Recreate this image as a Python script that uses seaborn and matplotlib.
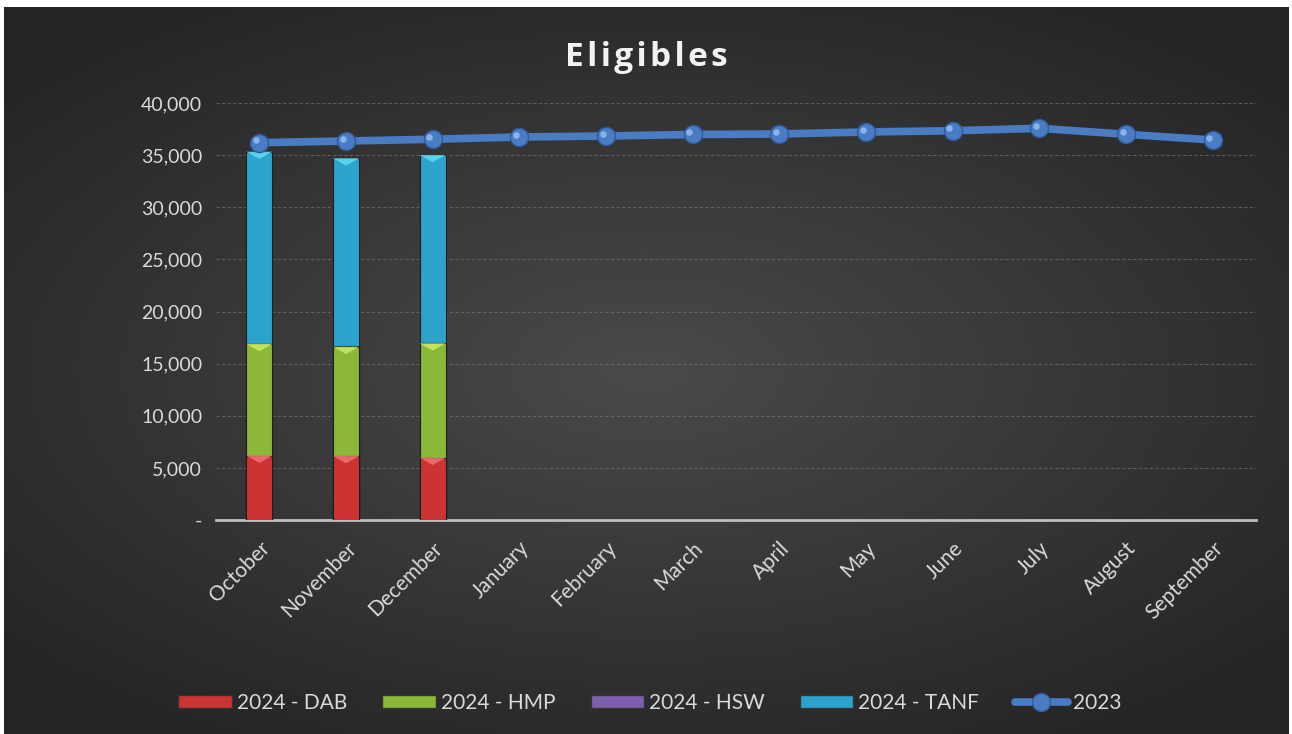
import numpy as np
import pandas as pd
import matplotlib
matplotlib.use("Agg")
import matplotlib.pyplot as plt
import seaborn as sns
from matplotlib.patches import Patch
from matplotlib.lines import Line2D
from matplotlib.ticker import FuncFormatter, MultipleLocator

months = ["October", "November", "December", "January", "February", "March",
          "April", "May", "June", "July", "August", "September"]
dab_2024 = [6180, 6140, 5980]
hmp_2024 = [10700, 10485, 10970]
hsw_2024 = [40, 40, 40]
tanf_2024 = [18410, 18035, 18020]
total_2023 = [36190, 36355, 36520, 36740, 36835, 36980, 37030, 37220, 37340, 37570, 37000, 36450]

series_names = ["2024 - DAB", "2024 - HMP", "2024 - HSW", "2024 - TANF"]
series_colors = ["#cc3434", "#8cb83a", "#7d5fb0", "#2ca3cc"]
line_color = "#4a7cc4"
text_color = "#d9d9d9"

sns.set_theme(style="dark")
plt.rcParams["font.family"] = ["Lato", "DejaVu Sans"]

W, H = 1292, 734
fig = plt.figure(figsize=(W / 100, H / 100), dpi=100, facecolor="white")

# background panel with radial gradient
bg = fig.add_axes([4 / W, 0, (1289 - 4) / W, (H - 7) / H])
yy, xx = np.mgrid[-1:1:300j, -1:1:500j]
r = np.sqrt((xx / 1.0) ** 2 + (yy / 0.9) ** 2)
r = np.clip(r / 1.35, 0, 1)
c0 = np.array([0x4a, 0x4a, 0x4a]) / 255
c1 = np.array([0x24, 0x24, 0x24]) / 255
img = c0[None, None, :] * (1 - r[..., None]) + c1[None, None, :] * r[..., None]
bg.imshow(img, aspect="auto", extent=[0, 1, 0, 1])
bg.set_axis_off()

ax = fig.add_axes([216 / W, (H - 520) / H, 1040 / W, 417 / H])
ax.set_facecolor("none")
ax.patch.set_alpha(0)

n = len(dab_2024)
cum_dab = np.array(dab_2024)
cum_hmp = cum_dab + np.array(hmp_2024)
cum_hsw = cum_hmp + np.array(hsw_2024)
cum_tanf = cum_hsw + np.array(tanf_2024)
layers = [cum_tanf, cum_hsw, cum_hmp, cum_dab]
layer_colors = series_colors[::-1]
for vals, col in zip(layers, layer_colors):
    sns.barplot(x=months[:n], y=vals, order=months, color=col, width=0.3,
                saturation=1, edgecolor="#1e1e1e", linewidth=0.8, ax=ax, zorder=3)

# bevel caps (lighter top of each segment)
bottoms = [np.zeros(n), cum_dab, cum_hmp, cum_hsw]
tops = [cum_dab, cum_hmp, cum_hsw, cum_tanf]
cap_colors = ["#f07070", "#c8e860", "#a890d8", "#5fd8f0"]
for b, t, cc in zip(bottoms, tops, cap_colors):
    for i in range(n):
        if t[i] - b[i] > 300:
            xs = [i - 0.15, i + 0.15, i]
            ys = [t[i], t[i], t[i] - 700]
            ax.fill(xs, ys, color=cc, zorder=4, alpha=0.9, lw=0)

line_df = pd.DataFrame({"month": months, "value": total_2023})
sns.pointplot(data=line_df, x="month", y="value", order=months, color=line_color,
              markers="o", linestyles="-", linewidth=5.5, markersize=13,
              markeredgecolor="#2d5a9a", markeredgewidth=1.0, ax=ax, zorder=5,
              errorbar=None)
# highlight on markers
ax.scatter(np.arange(len(months)) - 0.04, np.array(total_2023) + 220, s=22,
           color="#9cc2f0", zorder=6, alpha=0.8, linewidths=0)

ax.set_ylim(0, 40000)
ax.set_xlim(-0.5, len(months) - 0.5)
ax.yaxis.set_major_locator(MultipleLocator(5000))
ax.yaxis.set_major_formatter(FuncFormatter(lambda v, p: "-" if v == 0 else f"{int(v):,}"))
ax.grid(axis="y", color="#7a7a7a", linestyle=(0, (3, 2)), linewidth=0.8, alpha=0.6)
ax.grid(axis="x", visible=False)
ax.set_axisbelow(True)

ax.set_xticks(range(len(months)))
ax.set_xticklabels(months, rotation=45, ha="right", rotation_mode="anchor",
                   color=text_color, fontsize=15)
ax.set_xticks(np.arange(-0.5, len(months), 1.0), minor=True)
ax.tick_params(axis="x", which="major", length=0, pad=13)
ax.tick_params(axis="x", which="minor", length=6, width=1.2, color="#bfbfbf", direction="out")
ax.tick_params(axis="y", length=0, labelsize=14, labelcolor=text_color, pad=10)
for lab in ax.get_yticklabels():
    lab.set_color(text_color)
for s in ["top", "right", "left"]:
    ax.spines[s].set_visible(False)
ax.spines["bottom"].set_visible(True)
ax.spines["bottom"].set_color("#bfbfbf")
ax.spines["bottom"].set_linewidth(2)
ax.set_xlabel("")
ax.set_ylabel("")

fig.text(646 / W, 1 - 57 / H, "\u200a".join("Eligibles"), ha="center", va="center",
         fontsize=24, fontweight="bold", color="#f2f2f2", family=["Open Sans", "DejaVu Sans"])

handles = [Patch(facecolor=c, edgecolor="#333333") for c in series_colors]
handles.append(Line2D([0], [0], color=line_color, lw=5.5, marker="o", markersize=13,
                      markeredgecolor="#2d5a9a"))
leg = fig.legend(handles, series_names + ["2023"], loc="center", bbox_to_anchor=(650 / W, 1 - 703 / H),
                 ncol=5, frameon=False, fontsize=15, handlelength=2.55, handleheight=0.62,
                 columnspacing=1.7, handletextpad=0.25, labelcolor=text_color)

fig.savefig("out.png", dpi=100, facecolor="white")
